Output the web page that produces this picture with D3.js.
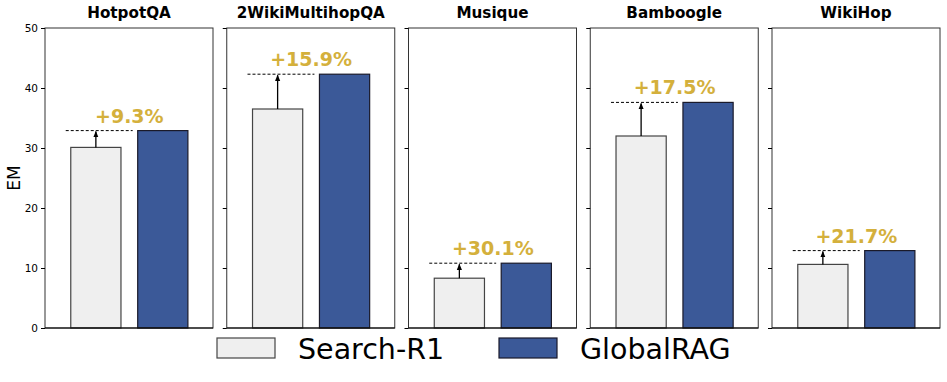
<!DOCTYPE html>
<html>
<head>
<meta charset="utf-8">
<script src="https://cdn.jsdelivr.net/npm/d3@7"></script>
<style>
  body { margin: 0; background: #fff; }
  text { font-family: "DejaVu Sans", sans-serif; }
</style>
</head>
<body>
<svg id="chart" width="947" height="382"></svg>
<script>
// data
const datasets = ["HotpotQA", "2WikiMultihopQA", "Musique", "Bamboogle", "WikiHop"];
const methods = ["Search-R1", "GlobalRAG"];
const searchR1 = [30.1, 36.5, 8.3, 32.0, 10.6];
const globalRAG = [32.9, 42.3, 10.8, 37.6, 12.9];
const gains = ["+9.3%", "+15.9%", "+30.1%", "+17.5%", "+21.7%"];
const yTicks = [0, 10, 20, 30, 40, 50];

const colors = { "Search-R1": "#efefef", "GlobalRAG": "#3b5998" };
const strokes = { "Search-R1": "#444", "GlobalRAG": "#1a1a2a" };

const svg = d3.select("#chart");
const plotTop = 28, plotBottom = 328;
const panelW = 168;
const panelX = d3.scaleLinear().domain([0, 4]).range([45, 772]);

const y = d3.scaleLinear().domain([0, 50]).range([plotBottom, plotTop]);
const x = d3.scaleLinear().domain([-0.76, 1.75]).range([0, panelW]);
const barW = x(0.75) - x(0);

svg.append("defs").append("marker")
    .attr("id", "arrow")
    .attr("viewBox", "0 0 10 10")
    .attr("refX", 9).attr("refY", 5)
    .attr("markerWidth", 5).attr("markerHeight", 5)
    .attr("orient", "auto")
    .append("path")
    .attr("d", "M0,1 L10,5 L0,9 z")
    .attr("fill", "#000");

datasets.forEach((name, i) => {
    const g = svg.append("g").attr("transform", `translate(${panelX(i)},0)`);
    const vals = [searchR1[i], globalRAG[i]];

    // bars
    g.selectAll("rect.bar")
        .data(methods)
        .enter()
        .append("rect")
        .attr("class", "bar")
        .attr("x", (m, j) => x(j) - barW / 2)
        .attr("y", (m, j) => y(vals[j]))
        .attr("width", barW)
        .attr("height", (m, j) => plotBottom - y(vals[j]))
        .attr("fill", m => colors[m])
        .attr("stroke", m => strokes[m])
        .attr("stroke-width", 1.2);

    // dashed reference line
    g.append("line")
        .attr("x1", x(-0.45)).attr("x2", x(0.55))
        .attr("y1", y(globalRAG[i])).attr("y2", y(globalRAG[i]))
        .attr("stroke", "#000")
        .attr("stroke-width", 1)
        .attr("stroke-dasharray", "3,2");

    // arrow
    g.append("line")
        .attr("x1", x(0)).attr("x2", x(0))
        .attr("y1", y(searchR1[i])).attr("y2", y(globalRAG[i]) + 1)
        .attr("stroke", "#000")
        .attr("stroke-width", 1.3)
        .attr("marker-end", "url(#arrow)");

    // gain label
    g.append("text")
        .attr("x", x(0.5))
        .attr("y", y(globalRAG[i]) - 8)
        .attr("text-anchor", "middle")
        .attr("font-size", 19)
        .attr("font-weight", "bold")
        .attr("fill", "#d4b03c")
        .text(gains[i]);

    // frame
    g.append("rect")
        .attr("x", 0).attr("y", plotTop)
        .attr("width", panelW).attr("height", plotBottom - plotTop)
        .attr("fill", "none")
        .attr("stroke", "#333")
        .attr("stroke-width", 1);
    g.append("line")
        .attr("x1", 0).attr("x2", panelW)
        .attr("y1", plotBottom).attr("y2", plotBottom)
        .attr("stroke", "#000")
        .attr("stroke-width", 1.2);

    // y axis
    const axis = d3.axisLeft(y).tickValues(yTicks).tickSize(4).tickPadding(3);
    if (i > 0) axis.tickFormat("");
    const ax = g.append("g").call(axis);
    ax.select(".domain").remove();
    ax.selectAll("text").attr("font-size", 10.5).attr("fill", "#000");

    // title
    g.append("text")
        .attr("x", panelW / 2)
        .attr("y", 18)
        .attr("text-anchor", "middle")
        .attr("font-size", 15.2)
        .attr("font-weight", "bold")
        .text(name);
});

// y label
svg.append("text")
    .attr("transform", `translate(20,${(plotTop + plotBottom) / 2}) rotate(-90)`)
    .attr("text-anchor", "middle")
    .attr("font-size", 17)
    .text("EM");

// legend
const legendX = [217, 499];
const leg = svg.append("g");
methods.forEach((m, j) => {
    leg.append("rect")
        .attr("x", legendX[j]).attr("y", 338)
        .attr("width", 58).attr("height", 20)
        .attr("fill", colors[m])
        .attr("stroke", strokes[m])
        .attr("stroke-width", 1.2);
    leg.append("text")
        .attr("x", legendX[j] + 81)
        .attr("y", 358.5)
        .attr("font-size", 28.5)
        .text(m);
});
</script>
</body>
</html>
